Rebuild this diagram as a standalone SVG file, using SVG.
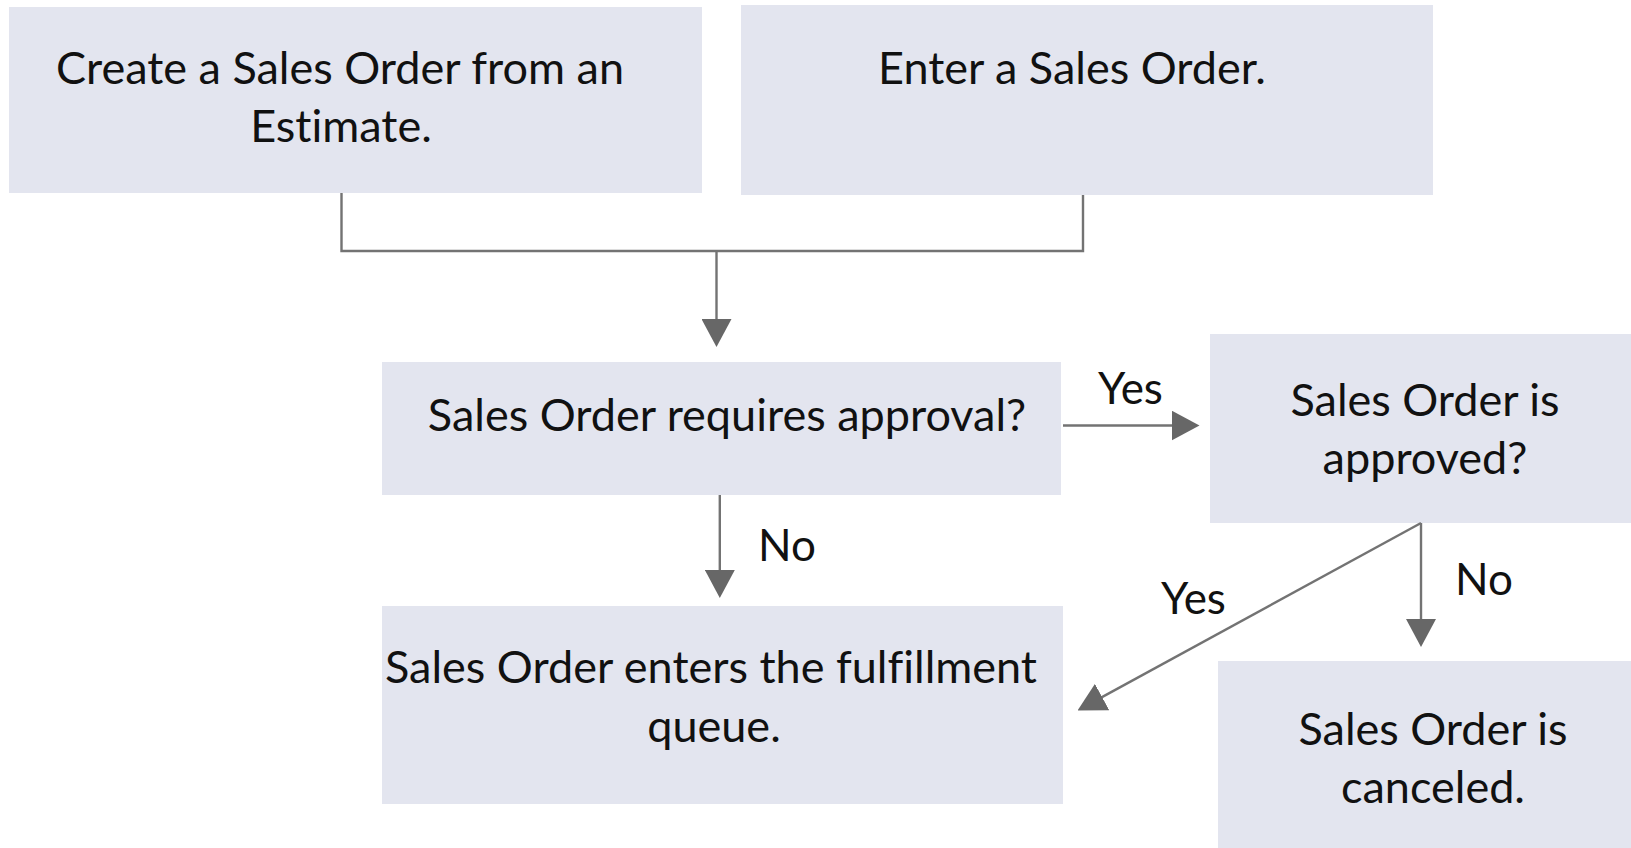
<svg xmlns="http://www.w3.org/2000/svg" width="1631" height="848" viewBox="0 0 1631 848">
  <style>
    .box { fill: #e3e5ef; }
    .t { font-family: Lato, "Noto Sans", "Liberation Sans", sans-serif; font-size: 45px; fill: #111; text-anchor: middle; font-variant-ligatures: none; }
    .lbl { font-family: Lato, "Noto Sans", "Liberation Sans", sans-serif; font-size: 44px; fill: #111; font-variant-ligatures: none; }
    .wire { fill: none; stroke: #737373; stroke-width: 2.4; }
  </style>
  <defs>
    <marker id="arrow" viewBox="0 0 28 30" refX="8" refY="15" markerWidth="28" markerHeight="30" markerUnits="userSpaceOnUse" orient="auto">
      <path d="M0,0 L28,15 L0,30 Z" fill="#676767"/>
    </marker>
  </defs>
  <rect width="1631" height="848" fill="#ffffff"/>

  <g id="node-estimate">
    <rect class="box" x="9" y="7" width="693" height="186"/>
    <text class="t" x="340" y="84">Create a Sales Order from an</text>
    <text class="t" x="341" y="142">Estimate.</text>
  </g>

  <g id="node-enter">
    <rect class="box" x="741" y="5" width="692" height="190"/>
    <text class="t" x="1072" y="84">Enter a Sales Order.</text>
  </g>

  <g id="node-requires-approval">
    <rect class="box" x="382" y="362" width="679" height="133"/>
    <text class="t" x="727" y="431">Sales Order requires approval?</text>
  </g>

  <g id="node-approved">
    <rect class="box" x="1210" y="334" width="421" height="189"/>
    <text class="t" x="1425" y="416">Sales Order is</text>
    <text class="t" x="1425" y="474">approved?</text>
  </g>

  <g id="node-fulfillment">
    <rect class="box" x="382" y="606" width="681" height="198"/>
    <text class="t" x="711" y="683">Sales Order enters the fulfillment</text>
    <text class="t" x="714" y="742">queue.</text>
  </g>

  <g id="node-canceled">
    <rect class="box" x="1218" y="661" width="413" height="187"/>
    <text class="t" x="1433" y="745">Sales Order is</text>
    <text class="t" x="1433" y="803">canceled.</text>
  </g>

  <g id="connectors">
    <polyline class="wire" points="341.5,193 341.5,251 1083,251 1083,195"/>
    <line class="wire" x1="716.5" y1="251" x2="716.5" y2="327" marker-end="url(#arrow)"/>
    <line class="wire" x1="1063" y1="425.5" x2="1179.5" y2="425.5" marker-end="url(#arrow)"/>
    <line class="wire" x1="719.8" y1="495" x2="719.8" y2="578" marker-end="url(#arrow)"/>
    <line class="wire" x1="1421" y1="523" x2="1095.1" y2="700.9" marker-end="url(#arrow)"/>
    <line class="wire" x1="1421" y1="523" x2="1421" y2="627" marker-end="url(#arrow)"/>
    <text class="lbl" x="1098" y="404">Yes</text>
    <text class="lbl" x="758" y="561">No</text>
    <text class="lbl" x="1455" y="595">No</text>
    <text class="lbl" x="1161" y="614">Yes</text>
  </g>
</svg>
